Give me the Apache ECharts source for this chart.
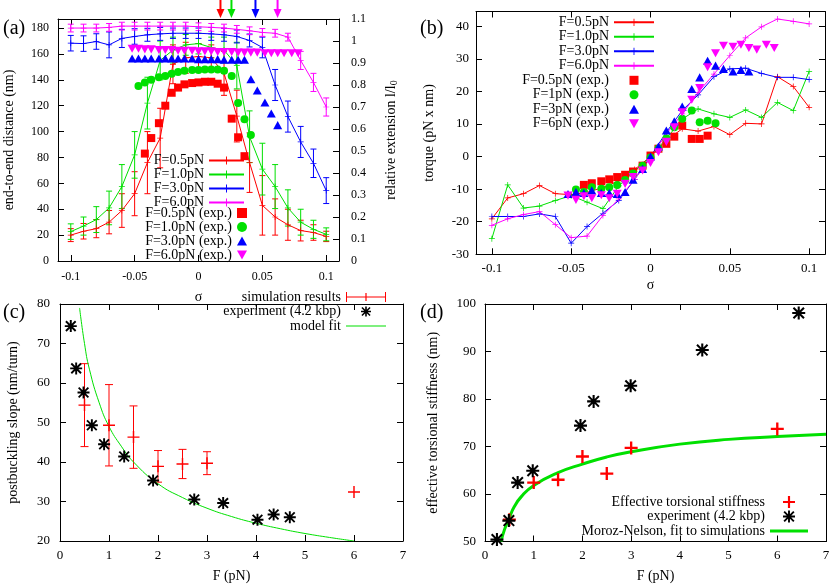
<!DOCTYPE html>
<html>
<head>
<meta charset="utf-8">
<title>supercoiling panels</title>
<script src="https://cdn.jsdelivr.net/npm/echarts@6/dist/echarts.min.js"></script>
<style>
  html, body { margin: 0; padding: 0; background: #fff; }
  #chart { width: 831px; height: 585px; }
</style>
</head>
<body>
<div id="chart"></div>
<script>
var SERIF = '"Liberation Serif", "DejaVu Serif", serif';
var RED = '#ff0000', GREEN = '#00e000', BLUE = '#0000ff', MAGENTA = '#ff00ff';

// ---- (a) + (b) simulations, sigma = -0.1 .. 0.1
var sigmaSim = [-0.1, -0.09, -0.08, -0.07, -0.06, -0.05, -0.04, -0.03, -0.02, -0.01, 0,
  0.01, 0.02, 0.03, 0.04, 0.05, 0.06, 0.07, 0.08, 0.09, 0.1];

// end-to-end distance (nm) and error bars
var dist05 = [20, 23, 25, 30, 39, 52, 76, 95, 152, 157, 158, 157, 145, 112, 76, 43, 34, 28, 23.5, 22, 19];
var err05 = [5, 6, 7, 9, 13, 17, 24, 23, 15, 12, 10, 10, 17, 20, 23, 23, 14, 12, 8, 6, 4];
var dist10 = [22.7, 27, 32, 41, 57.5, 82, 122, 155, 163, 167, 168, 165, 163, 151, 96, 71, 57.5, 41, 30, 24.5, 20.6];
var err10 = [6, 7, 10, 13, 17, 18, 20, 15, 10, 8, 8, 8, 10, 18, 20, 20, 17, 14, 10, 7, 5];
var dist30 = [168.3, 168, 169.6, 167, 172, 173.5, 174.8, 175.5, 176, 176, 176, 175.5, 174.8, 173.5, 170.4, 165, 136, 111.6, 92, 75.5, 54.4];
var err30 = [6, 6, 6, 10, 7, 6, 5, 5, 4, 4, 4, 5, 5, 5, 5, 8, 12, 12, 12, 11, 10];
var dist60 = [180, 180, 180, 180.5, 181.5, 181.5, 181.5, 181.5, 181.5, 181.5, 181, 180.5, 180, 179, 177.9, 176.6, 176, 173, 155, 138, 119];
var err60 = [3, 3, 3, 3, 3, 3, 3, 3, 3, 3, 3, 3, 3, 3, 3, 3, 3, 3, 7, 7, 7];

// torque (pN x nm)
var torque05 = [-19.1, -12.7, -11.4, -8.9, -11.4, -11.7, -11, -9.5, -7.5, -4, 0, 5, 8.5, 7.8, 9.2, 6.7, 10.2, 10, 24.5, 21.5, 15.1];
var torque10 = [-25.2, -8.7, -15.8, -15.2, -13.5, -12, -14, -16, -9, -4.5, 0, 5.5, 11.5, 14.6, 13.1, 12, 14.3, 12, 16.6, 14.1, 26.1];
var torque30 = [-18.4, -18.4, -18.4, -17.6, -18.4, -26.6, -21.5, -17.4, -13.5, -7, 0, 7.5, 14.1, 18.9, 24.5, 26.9, 27.1, 25.5, 24.3, 24.3, 23.6];
var torque60 = [-21.1, -19.1, -17.8, -16.9, -20.9, -24.9, -24.4, -18.1, -13, -7, -0.5, 7, 13.1, 19.7, 25.3, 31, 36.4, 39.8, 42.2, 41.5, 40.7];

// ---- (a) + (b) experiments
var sigmaExp05 = [-0.042, -0.037, -0.031, -0.026, -0.021, -0.016, -0.011, -0.005, 0, 0.005, 0.01, 0.015, 0.02, 0.026, 0.031, 0.036];
var distExp05 = [83, 95, 106.5, 120, 130, 134, 136.5, 137.5, 138, 138.5, 138.5, 137, 134, 110, 95.6, 81];
var torqueExp05 = [-8.7, -8.2, -7.6, -7, -6.3, -5.6, -4.6, -2.8, 0.3, 2.4, 3.9, 6.1, 9.5, 5.4, 5.4, 6.4];

var sigmaExp10 = [-0.047, -0.042, -0.037, -0.031, -0.026, -0.021, -0.016, -0.011, -0.005, 0, 0.005, 0.01, 0.015, 0.02, 0.026, 0.031, 0.036, 0.041];
var distExp10 = [135.3, 138, 140, 142, 143, 144.6, 146, 147, 147.5, 147.5, 148, 148, 148, 147, 143, 122, 109.6, 97.4];
var torqueExp10 = [-10.1, -10.9, -9.4, -9.9, -9.4, -8.7, -7.2, -5.2, -2.8, -0.3, 2.5, 5.5, 9, 11.6, 14.1, 10.5, 11, 10.2];

var sigmaExp30 = [-0.052, -0.047, -0.042, -0.037, -0.031, -0.026, -0.021, -0.016, -0.011, -0.005, 0, 0.005, 0.01, 0.015, 0.02, 0.026, 0.031, 0.036, 0.041, 0.046, 0.052, 0.057, 0.062];
var distExp30 = [156.5, 156.5, 156.5, 156.5, 156.5, 156.5, 156.5, 156.5, 156.5, 156.5, 156, 156, 156, 156, 155.5, 155.5, 155.5, 155.5, 140.5, 131.7, 122.5, 114, 105];
var torqueExp30 = [-11.5, -10.9, -11.2, -10.4, -11.2, -11.2, -11.5, -10.9, -7.1, -3.8, 0, 3.1, 8, 10.8, 15.3, 20.7, 24.3, 29.4, 27.9, 26.9, 26.1, 26.6, 26.1];

var sigmaExp60 = [-0.052, -0.047, -0.042, -0.037, -0.031, -0.026, -0.021, -0.016, -0.011, -0.005, 0, 0.005, 0.01, 0.015, 0.02, 0.026, 0.031, 0.036, 0.041, 0.046, 0.052, 0.057, 0.062, 0.067, 0.073, 0.078];
var distExp60 = [164, 164, 163.5, 163.5, 163, 163, 163, 162.5, 162.5, 162.5, 162, 162, 162, 161.5, 161.5, 161.5, 161, 161, 161, 161, 160.5, 160.5, 160.5, 160.5, 160.5, 160.5];
var torqueExp60 = [-12, -13.3, -12.2, -12.8, -11.9, -12.8, -11.4, -8.4, -6.3, -4.3, -2, 1.3, 4.5, 9, 13.6, 17.4, 21, 27.4, 31.7, 34, 33.7, 34.3, 33.3, 32.8, 34.3, 33.3];

// buckling transition markers on top of (a)
var arrowSigma = [0.0172, 0.0258, 0.0446, 0.0619];
var arrowColors = [RED, GREEN, BLUE, MAGENTA];

// ---- (c) postbuckling slope
var forceSim = [0.5, 1, 1.5, 2, 2.5, 3, 6];
var slopeSim = [54.4, 49.3, 46.3, 38.9, 39.5, 39.7, 32.4];
var slopeErr = [10.5, 10.3, 7.9, 4, 3.7, 2.9, 0];
var forceExpC = [0.22, 0.33, 0.48, 0.65, 0.9, 1.31, 1.9, 2.74, 3.33, 4.03, 4.36, 4.69];
var slopeExp = [74.4, 63.7, 57.6, 49.3, 44.5, 41.4, 35.3, 30.5, 29.6, 25.4, 26.7, 26];
var fitForce = [0.4, 0.5, 0.6, 0.8, 1, 1.25, 1.5, 2, 2.5, 3, 3.5, 4, 4.5, 5, 5.5, 6];
var fitSlope = [79, 70, 63.5, 55, 49, 44, 40, 34.5, 31, 28.3, 26.2, 24.5, 23.1, 21.9, 20.9, 20];

// ---- (d) effective torsional stiffness
var stiffSim = [54.6, 62.4, 63, 67.9, 64.3, 69.7, 73.7];
var forceExpD = [0.245, 0.49, 0.67, 0.98, 1.96, 2.23, 2.99, 4.46, 6.44];
var stiffExp = [50.4, 54.4, 62.4, 64.9, 74.4, 79.5, 82.8, 90.3, 98.1];
var mnForce = [0.33, 0.4, 0.5, 0.6, 0.75, 1, 1.5, 2, 2.5, 3, 4, 5, 6, 7];
var mnStiff = [50, 52.5, 55, 57.3, 59.5, 61.8, 64.5, 66.3, 67.8, 68.9, 70.5, 71.5, 72.1, 72.6];

// symbols as filled paths, so that legend icons keep their aspect
var PLUS = 'path://M4.4,0H5.6V10H4.4Z M0,4.4H10V5.6H0Z';
var PLUS_BOLD = 'path://M4.1,0H5.9V10H4.1Z M0,4.1H10V5.9H0Z';
var STAR = 'path://M4.2,0H5.8V10H4.2Z M0,4.2H10V5.8H0Z M0.4,1.5L1.5,0.4L9.6,8.5L8.5,9.6Z M8.5,0.4L9.6,1.5L1.5,9.6L0.4,8.5Z';
var SQUARE = 'path://M0,0H10V10H0Z';
var TRI_UP = 'path://M5,0L10,9L0,9Z';
var TRI_DOWN = 'path://M0,0L10,0L5,9Z';
var ERRBAR_KEY = 'path://M0,0H1V10H0Z M39,0H40V10H39Z M0,4.5H40V5.5H0Z M19.4,1H20.6V9H19.4Z';
var THIN_LINE_KEY = 'path://M0,0H40V1H0Z';
var THICK_LINE_KEY = 'path://M0,0H38V3H0Z';

function pairs(xs, ys) {
  return xs.map(function (x, i) { return [x, ys[i]]; });
}
function fmt(v) {
  return String(Math.round(v * 1000) / 1000);
}

function axis(dim, grid, pos, min, max, ticks, labelled, name, nameGap, labelSize, labelMargin) {
  return {
    type: 'value', gridIndex: grid, position: pos, min: min, max: max,
    splitLine: { show: false },
    axisLine: { show: true, onZero: false, lineStyle: { color: '#000', width: 1 } },
    axisTick: { show: true, inside: true, length: 6, customValues: ticks, lineStyle: { color: '#000' } },
    axisLabel: { show: labelled, customValues: ticks, margin: labelMargin, formatter: fmt,
      color: '#000', fontFamily: SERIF, fontSize: labelSize },
    name: name || '', nameLocation: 'middle', nameGap: nameGap || 0, nameRotate: dim === 'y' ? 90 : 0,
    nameTextStyle: { color: '#000', fontFamily: SERIF, fontSize: 14,
      rich: { sub: { fontFamily: SERIF, fontSize: 10, padding: [0, 0, -6, 0], color: '#000' } } }
  };
}

function simLine(name, xi, yi, xs, ys, color) {
  return {
    name: name, type: 'line', xAxisIndex: xi, yAxisIndex: yi, data: pairs(xs, ys),
    symbol: PLUS, symbolSize: 6, showSymbol: true, z: 3,
    lineStyle: { color: color, width: 1 }, itemStyle: { color: color }
  };
}

function expPoints(name, xi, yi, xs, ys, color, symbol, size) {
  return {
    name: name, type: 'scatter', xAxisIndex: xi, yAxisIndex: yi, data: pairs(xs, ys),
    symbol: symbol, symbolSize: size, symbolKeepAspect: true, z: 4, itemStyle: { color: color, opacity: 1 }
  };
}

function errorBars(xi, yi, xs, ys, es, color, cap) {
  var rows = [];
  xs.forEach(function (x, i) {
    if (es[i] > 0) rows.push([x, ys[i] - es[i], ys[i] + es[i]]);
  });
  return {
    type: 'custom', xAxisIndex: xi, yAxisIndex: yi, silent: true, z: 2,
    encode: { x: 0, y: [1, 2] },
    data: rows,
    renderItem: function (params, api) {
      var lo = api.coord([api.value(0), api.value(1)]);
      var hi = api.coord([api.value(0), api.value(2)]);
      var st = { stroke: color, lineWidth: 1 };
      return {
        type: 'group', children: [
          { type: 'line', shape: { x1: lo[0], y1: lo[1], x2: hi[0], y2: hi[1] }, style: st },
          { type: 'line', shape: { x1: lo[0] - cap, y1: lo[1], x2: lo[0] + cap, y2: lo[1] }, style: st },
          { type: 'line', shape: { x1: hi[0] - cap, y1: hi[1], x2: hi[0] + cap, y2: hi[1] }, style: st }
        ]
      };
    }
  };
}

var legendText = { color: '#000', fontFamily: SERIF, fontSize: 14, lineHeight: 14 };
function legend(names, right, top, itemWidth, itemHeight, gap) {
  return {
    data: names, orient: 'vertical', align: 'right', right: right, top: top,
    itemWidth: itemWidth, itemHeight: itemHeight, itemGap: gap, padding: 0,
    symbolKeepAspect: true, selectedMode: false, textStyle: legendText
  };
}

function panelTitle(text, left, top) {
  return { text: text, left: left, top: top, padding: 0,
    textStyle: { fontFamily: SERIF, fontSize: 20, fontWeight: 'normal', color: '#000' } };
}

var sigTicks = [-0.1, -0.05, 0, 0.05, 0.1];
var distTicks = [0, 20, 40, 60, 80, 100, 120, 140, 160, 180];
var relTicks = [0, 0.1, 0.2, 0.3, 0.4, 0.5, 0.6, 0.7, 0.8, 0.9, 1, 1.1];
var torqueTicks = [-30, -20, -10, 0, 10, 20, 30, 40];
var forceTicks = [0, 1, 2, 3, 4, 5, 6, 7];
var slopeTicks = [20, 30, 40, 50, 60, 70, 80];
var stiffTicks = [50, 60, 70, 80, 90, 100];

var chart = echarts.init(document.getElementById('chart'), null, { renderer: 'canvas' });

var option = {
  animation: false,
  backgroundColor: '#fff',
  title: [
    panelTitle('(a)', 3, 19), panelTitle('(b)', 420, 19),
    panelTitle('(c)', 3, 303), panelTitle('(d)', 420, 303)
  ],
  grid: [
    { left: 58, top: 19, width: 281, height: 242, outerBoundsMode: 'none' },
    { left: 476, top: 11.5, width: 349, height: 242.8, outerBoundsMode: 'none' },
    { left: 60, top: 304, width: 343, height: 237, outerBoundsMode: 'none' },
    { left: 485, top: 304, width: 341, height: 237.5, outerBoundsMode: 'none' }
  ],
  xAxis: [
    axis('x', 0, 'bottom', -0.11, 0.11, sigTicks, true, '\u03c3', 29, 12, 10),
    axis('x', 0, 'top', -0.11, 0.11, sigTicks, false),
    axis('x', 1, 'bottom', -0.11, 0.11, sigTicks, true, '\u03c3', 24, 13, 8),
    axis('x', 1, 'top', -0.11, 0.11, sigTicks, false),
    axis('x', 2, 'bottom', 0, 7, forceTicks, true, 'F (pN)', 28, 13, 8),
    axis('x', 2, 'top', 0, 7, forceTicks, false),
    axis('x', 3, 'bottom', 0, 7, forceTicks, true, 'F (pN)', 28, 13, 8),
    axis('x', 3, 'top', 0, 7, forceTicks, false)
  ],
  yAxis: [
    axis('y', 0, 'left', 0, 187, distTicks, true, 'end-to-end distance (nm)', 42, 12, 9),
    axis('y', 0, 'right', 0, 1.1, relTicks, true, 'relative extension l/l{sub|0}', 45, 12, 12),
    axis('y', 1, 'left', -30, 44.5, torqueTicks, true, 'torque (pN x nm)', 40, 13, 7),
    axis('y', 1, 'right', -30, 44.5, torqueTicks, false),
    axis('y', 2, 'left', 20, 80, slopeTicks, true, 'postbuckling slope (nm/turn)', 40, 13, 10),
    axis('y', 2, 'right', 20, 80, slopeTicks, false),
    axis('y', 3, 'left', 50, 100, stiffTicks, true, 'effective torsional stiffness (nm)', 45, 13, 9),
    axis('y', 3, 'right', 50, 100, stiffTicks, false)
  ],
  legend: [
    legend(['F=0.5pN', 'F=1.0pN', 'F=3.0pN', 'F=6.0pN'], 831 - 245, 153.5, 35, 10, 0),
    legend(['F=0.5pN (exp.)', 'F=1.0pN (exp.)', 'F=3.0pN (exp.)', 'F=6.0pN (exp.)'], 831 - 247, 206, 10, 10, 0),
    legend(['F=0.5pN', 'F=1.0pN', 'F=3.0pN', 'F=6.0pN', 'F=0.5pN (exp.)', 'F=1pN (exp.)', 'F=3pN (exp.)', 'F=6pN (exp.)'],
      831 - 655, 15.3, 40, 9, 0.5),
    legend([{ name: 'simulation results', icon: ERRBAR_KEY }, 'experiment (4.2 kbp)',
      { name: 'model fit', icon: THIN_LINE_KEY }], 831 - 386, 290, 40, 10, 0.5),
    legend([{ name: 'Effective torsional stiffness', icon: PLUS_BOLD }, 'experiment (4.2 kbp)',
      { name: 'Moroz-Nelson, fit to simulations', icon: THICK_LINE_KEY }], 831 - 808, 495, 38, 12, 0.5)
  ],
  series: [
    // (a) error bars, lines, experiments
    errorBars(0, 0, sigmaSim, dist05, err05, RED, 3),
    errorBars(0, 0, sigmaSim, dist10, err10, GREEN, 3),
    errorBars(0, 0, sigmaSim, dist30, err30, BLUE, 3),
    errorBars(0, 0, sigmaSim, dist60, err60, MAGENTA, 3),
    simLine('F=0.5pN', 0, 0, sigmaSim, dist05, RED),
    simLine('F=1.0pN', 0, 0, sigmaSim, dist10, GREEN),
    simLine('F=3.0pN', 0, 0, sigmaSim, dist30, BLUE),
    simLine('F=6.0pN', 0, 0, sigmaSim, dist60, MAGENTA),
    expPoints('F=0.5pN (exp.)', 0, 0, sigmaExp05, distExp05, RED, SQUARE, 8),
    expPoints('F=1.0pN (exp.)', 0, 0, sigmaExp10, distExp10, GREEN, 'circle', 8),
    expPoints('F=3.0pN (exp.)', 0, 0, sigmaExp30, distExp30, BLUE, TRI_UP, 9),
    expPoints('F=6.0pN (exp.)', 0, 0, sigmaExp60, distExp60, MAGENTA, TRI_DOWN, 9),
    {
      type: 'custom', xAxisIndex: 0, yAxisIndex: 0, silent: true, clip: false, z: 5,
      encode: { x: 0, y: 1 },
      data: arrowSigma.map(function (s) { return [s, 187]; }),
      renderItem: function (params, api) {
        var p = api.coord([api.value(0), api.value(1)]);
        var c = arrowColors[params.dataIndex];
        return {
          type: 'group', children: [
            { type: 'line', shape: { x1: p[0], y1: p[1] - 19, x2: p[0], y2: p[1] - 6 }, style: { stroke: c, lineWidth: 2 } },
            { type: 'polygon', shape: { points: [[p[0] - 4, p[1] - 10], [p[0] + 4, p[1] - 10], [p[0], p[1] - 1]] }, style: { fill: c } }
          ]
        };
      }
    },
    // (b)
    simLine('F=0.5pN', 2, 2, sigmaSim, torque05, RED),
    simLine('F=1.0pN', 2, 2, sigmaSim, torque10, GREEN),
    simLine('F=3.0pN', 2, 2, sigmaSim, torque30, BLUE),
    simLine('F=6.0pN', 2, 2, sigmaSim, torque60, MAGENTA),
    expPoints('F=0.5pN (exp.)', 2, 2, sigmaExp05, torqueExp05, RED, SQUARE, 8),
    expPoints('F=1pN (exp.)', 2, 2, sigmaExp10, torqueExp10, GREEN, 'circle', 8),
    expPoints('F=3pN (exp.)', 2, 2, sigmaExp30, torqueExp30, BLUE, TRI_UP, 9),
    expPoints('F=6pN (exp.)', 2, 2, sigmaExp60, torqueExp60, MAGENTA, TRI_DOWN, 9),
    // (c)
    errorBars(4, 4, forceSim, slopeSim, slopeErr, RED, 4),
    expPoints('simulation results', 4, 4, forceSim, slopeSim, RED, PLUS, 12),
    expPoints('experiment (4.2 kbp)', 4, 4, forceExpC, slopeExp, '#000', STAR, 12),
    {
      name: 'model fit', type: 'line', xAxisIndex: 4, yAxisIndex: 4, data: pairs(fitForce, fitSlope),
      smooth: true, symbol: 'none', lineStyle: { color: GREEN, width: 1 }, itemStyle: { color: GREEN }, z: 3
    },
    // (d)
    expPoints('Effective torsional stiffness', 6, 6, forceSim, stiffSim, RED, PLUS_BOLD, 13),
    expPoints('experiment (4.2 kbp)', 6, 6, forceExpD, stiffExp, '#000', STAR, 13),
    {
      name: 'Moroz-Nelson, fit to simulations', type: 'line', xAxisIndex: 6, yAxisIndex: 6,
      data: pairs(mnForce, mnStiff), smooth: true, symbol: 'none',
      lineStyle: { color: GREEN, width: 3 }, itemStyle: { color: GREEN }, z: 3
    }
  ]
};

chart.setOption(option);
</script>
</body>
</html>
